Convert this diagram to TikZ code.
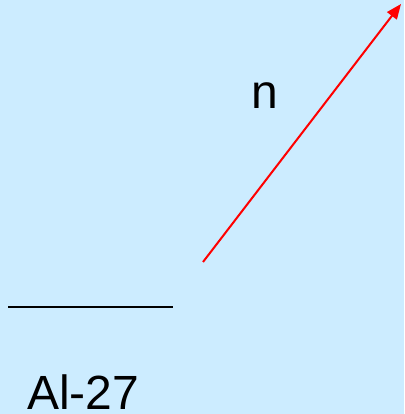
\documentclass[tikz,border=0pt]{standalone}
\usepackage{fontspec}
\setmainfont{Liberation Sans}
\usetikzlibrary{arrows.meta}
\definecolor{bg}{RGB}{204,236,255}
\begin{document}
\begin{tikzpicture}[x=1pt,y=1pt,
  lbl/.style={inner sep=0pt,anchor=base west,font=\fontsize{48}{48}\selectfont},
  ray/.style={red,line width=2pt,-{Triangle[length=15pt,width=12pt]}}]
\fill[bg] (0,0) rectangle (404,414);
\useasboundingbox (0,0) rectangle (404,414);
\coordinate (s) at (203,152);
\coordinate (e) at (401,410);
\draw[ray] (s) -- (e);
\coordinate (l1) at (8,107);
\coordinate (l2) at (173,107);
\draw[line width=1.5pt] (l1) -- (l2);
\node[lbl] (n) at (251,305) {n};
\node[lbl] (al) at (27,5) {Al-27};
\end{tikzpicture}
\end{document}
